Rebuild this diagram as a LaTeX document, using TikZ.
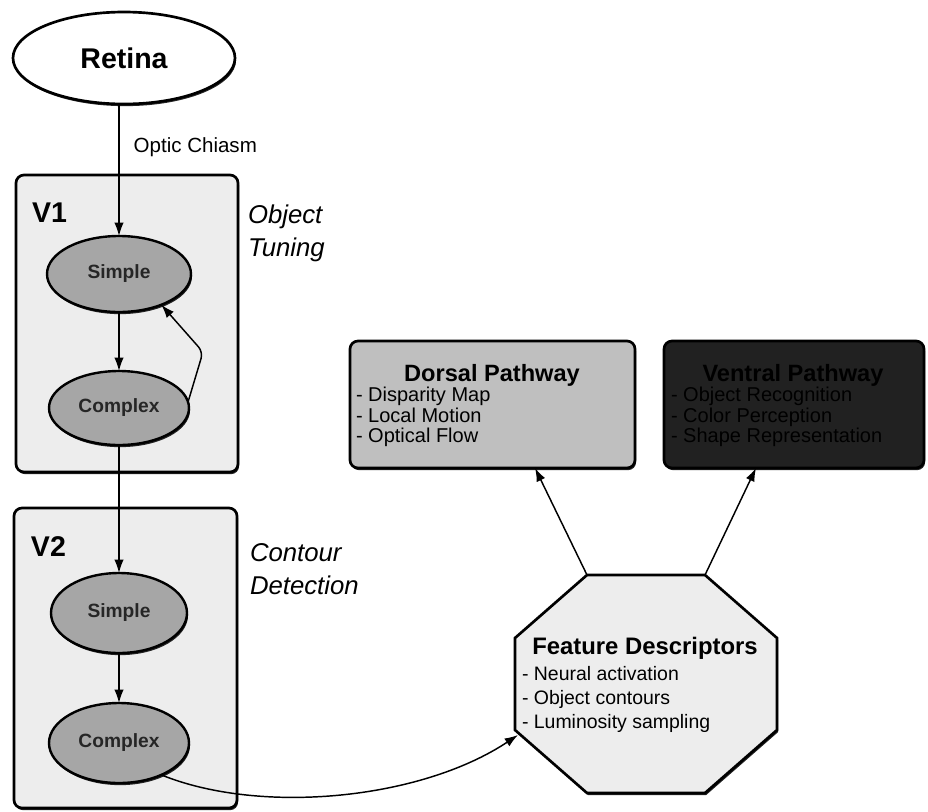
\documentclass[tikz,border=0pt]{standalone}
\usepackage{fontspec}
\setmainfont{Liberation Sans}
\usetikzlibrary{shapes.geometric,shadows,arrows.meta,calc}

\begin{document}
\begin{tikzpicture}[x=0.75pt,y=-0.75pt,
  every node/.style={inner sep=0pt,outer sep=0pt},
  link/.style={line width=1.1pt,-{Latex[length=10pt,width=7pt]}},
  dropshade/.style={drop shadow={shadow xshift=0.8pt,shadow yshift=-1.6pt,opacity=0.85,fill=black}},
  area/.style={draw,line width=2pt,rounded corners=6pt,fill=black!7,dropshade},
  cellnode/.style={ellipse,draw,line width=1.8pt,fill=black!35,dropshade,
    text=black!85,font=\bfseries\fontsize{14.4pt}{16pt}\selectfont},
  areatitle/.style={anchor=west,font=\bfseries\fontsize{21.4pt}{25pt}\selectfont},
  tuning/.style={anchor=west,align=left,font=\itshape\fontsize{19.3pt}{24.7pt}\selectfont},
  pathbox/.style={draw,line width=2pt,rounded corners=6pt,dropshade,
    minimum width=#1,minimum height=95.25pt},
  boxtitle/.style={font=\bfseries\fontsize{17.7pt}{20pt}\selectfont},
  boxitems/.style={anchor=west,align=left,font=\fontsize{15pt}{15.4pt}\selectfont}
]
% canvas
\fill[white] (0,0) rectangle (928,811);
\useasboundingbox (0,0) rectangle (928,811);

% visual areas
\node[area,minimum width=166.5pt,minimum height=222.75pt] (v1) at (127,323.5) {};
\node[area,minimum width=167.25pt,minimum height=225pt] (v2) at (125.5,658) {};
\node[areatitle] (v1t) at (32,213) {V1};
\node[areatitle] (v2t) at (31,547) {V2};
\node[tuning] (v1role) at (248,233.5) {Object\\Tuning};
\node[tuning] (v2role) at (250,569) {Contour\\Detection};

% retina
\node[ellipse,draw,line width=2pt,fill=white,dropshade,minimum width=166.5pt,minimum height=69pt,
  font=\bfseries\fontsize{21.4pt}{25pt}\selectfont] (retina) at (124,58) {Retina};

% cells
\node[cellnode,minimum width=108pt,minimum height=57pt] (s1) at (119,274) {Simple};
\node[cellnode,minimum width=105pt,minimum height=55.5pt] (c1) at (119,408) {Complex};
\node[cellnode,minimum width=102pt,minimum height=60pt] (s2) at (119,613) {Simple};
\node[cellnode,minimum width=105pt,minimum height=60pt] (c2) at (119,743) {Complex};

% pathways
\node[pathbox=213.75pt,fill=black!25] (dorsal) at (492.5,404.5) {};
\node[boxtitle] (dorsalt) at (492,375) {Dorsal Pathway};
\node[boxitems] (dorsali) at (356,417) {- Disparity Map\\- Local Motion\\- Optical Flow};

\node[pathbox=195pt,fill=black!87] (ventral) at (794,404.5) {};
\node[boxtitle,text=black] (ventralt) at (793,375) {Ventral Pathway};
\node[boxitems,text=black] (ventrali) at (671,417) {- Object Recognition\\- Color Perception\\- Shape Representation};

% feature descriptors octagon
\coordinate (fo1) at (587,575);
\coordinate (fo2) at (705,575);
\coordinate (fo3) at (777,638);
\coordinate (fo4) at (777,730);
\coordinate (fo5) at (705,793);
\coordinate (fo6) at (587,793);
\coordinate (fo7) at (515,730);
\coordinate (fo8) at (515,638);
\coordinate (featin) at (518,735);
\draw[line width=2pt,fill=black!7,dropshade]
  (fo1) -- (fo2) -- (fo3) -- (fo4) -- (fo5) -- (fo6) -- (fo7) -- (fo8) -- cycle;
\node[font=\bfseries\fontsize{17.9pt}{20pt}\selectfont] (featt) at (645,648) {Feature Descriptors};
\node[anchor=west,align=left,font=\fontsize{14.6pt}{18pt}\selectfont] (feati) at (522,699)
  {- Neural activation\\- Object contours\\- Luminosity sampling};

% connectors
\draw[link] (s1.north |- retina.south) -- node[pos=0.33,anchor=west,xshift=11pt,font=\fontsize{15.4pt}{18pt}\selectfont] (chiasm) {Optic Chiasm} (s1.north);
\draw[link] (s1) -- (c1);
\draw[link] (c1) -- (s2);
\draw[link] (s2) -- (c2);
\draw[link,rounded corners=5pt] (c1.5) -- (203,352) -- (s1.-36);
\draw[link] (c2.-37) .. controls (260,815) and (420,800) .. (featin);
\draw[link] (fo1) -- ([xshift=31.9pt]dorsal.south);
\draw[link] (fo2) -- ([xshift=-28.5pt]ventral.south);
\end{tikzpicture}
\end{document}
